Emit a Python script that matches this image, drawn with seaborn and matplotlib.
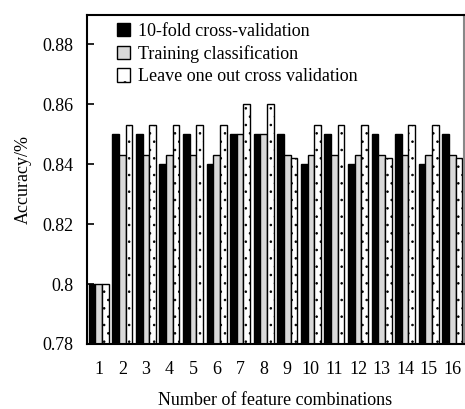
import matplotlib
matplotlib.use("Agg")
import matplotlib.pyplot as plt
import seaborn as sns
import pandas as pd

combos = [str(i) for i in range(1, 17)]
tenfold = [0.80, 0.85, 0.85, 0.84, 0.85, 0.84, 0.85, 0.85, 0.85, 0.84, 0.85, 0.84, 0.85, 0.85, 0.84, 0.85]
training = [0.80, 0.843, 0.843, 0.843, 0.843, 0.843, 0.85, 0.85, 0.843, 0.843, 0.843, 0.843, 0.843, 0.843, 0.843, 0.843]
loocv = [0.80, 0.853, 0.853, 0.853, 0.853, 0.853, 0.86, 0.86, 0.842, 0.853, 0.853, 0.853, 0.842, 0.853, 0.853, 0.842]
series = ["10-fold cross-validation", "Training classification", "Leave one out cross validation"]
yticks = [0.78, 0.80, 0.82, 0.84, 0.86, 0.88]
ytick_labels = ["0.78", "0.8", "0.82", "0.84", "0.86", "0.88"]

rows = []
for name, vals in zip(series, [tenfold, training, loocv]):
    for c, v in zip(combos, vals):
        rows.append({"combo": c, "series": name, "acc": v})
df = pd.DataFrame(rows)

sns.set_style("ticks")
plt.rcParams["font.family"] = ["Liberation Serif", "DejaVu Serif"]
plt.rcParams["hatch.linewidth"] = 0.6
plt.rcParams["hatch.color"] = "#444444"
plt.rcParams["text.color"] = "black"
plt.rcParams["axes.labelcolor"] = "black"
plt.rcParams["xtick.color"] = "black"
plt.rcParams["ytick.color"] = "black"

fig = plt.figure(figsize=(4.65, 4.09), dpi=100)
ax = fig.add_axes([0.187, 0.159, 0.811, 0.804])

colors = ["#000000", "#d9d9d9", "#ffffff"]
sns.barplot(data=df, x="combo", y="acc", hue="series", hue_order=series,
            palette=colors, width=0.85, edgecolor="black", linewidth=1.0,
            gap=0, ax=ax, errorbar=None)

n = len(combos)
for i, patch in enumerate(ax.patches[:3 * n]):
    if i >= 2 * n:
        patch.set_hatch("..")
    patch.set_edgecolor("black")

ax.set_ylim(0.78, 0.8897)
ax.set_xlim(-0.5, 15.5)
ax.set_yticks(yticks)
ax.set_yticklabels(ytick_labels)
ax.tick_params(axis="y", direction="in", length=5, width=1.2, labelsize=13, pad=10)
ax.tick_params(axis="x", length=0, labelsize=13, pad=12)
ax.set_xlabel("Number of feature combinations", fontsize=13, labelpad=10)
ax.set_ylabel("Accuracy/%", fontsize=13, labelpad=7)

for s in ["left", "bottom", "top"]:
    ax.spines[s].set_linewidth(1.5)
    ax.spines[s].set_color("black")
ax.spines["right"].set_linewidth(1.5)
ax.spines["right"].set_color("#888888")

handles, labels = ax.get_legend_handles_labels()
leg = ax.legend(handles, labels, loc="upper left", frameon=False, fontsize=13,
                handlelength=0.75, handleheight=0.75, handletextpad=0.45,
                labelspacing=0.3, borderaxespad=0.2, bbox_to_anchor=(0.05, 1.01))
for h in leg.legend_handles:
    h.set_edgecolor("black")
    h.set_linewidth(1.0)
leg.legend_handles[2].set_hatch(". ")

fig.savefig("out.png", dpi=100)
